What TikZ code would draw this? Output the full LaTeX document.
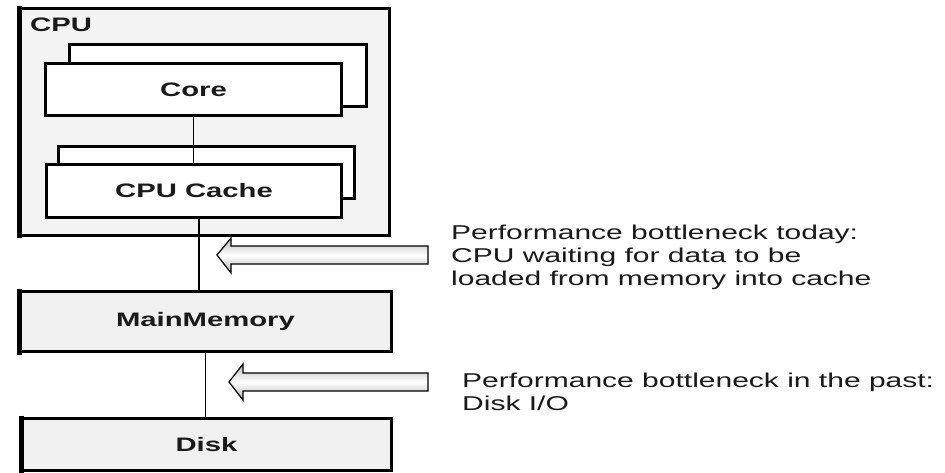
\documentclass[tikz,border=0pt]{standalone}
\usepackage{fontspec}
\setmainfont{Liberation Sans}
\newfontfamily\widefont[FakeStretch=1.5]{Liberation Sans}
\usetikzlibrary{calc}
\definecolor{boxgray}{HTML}{F0F0F0}
\definecolor{cpugray}{HTML}{F3F3F3}
\definecolor{inkgray}{HTML}{1A1A1A}
\begin{document}
\begin{tikzpicture}[x=1pt,y=-1pt,
  box/.style={draw=black, rectangle, inner sep=0pt, line width=3pt, text=inkgray,
    font=\widefont\bfseries\fontsize{19.5}{22}\selectfont},
  backbox/.style={draw=black, rectangle, fill=white, line width=3pt},
  conn/.style={draw=black, line width=1.3pt},
  note/.style={inner sep=0pt, align=left, anchor=north west, text=inkgray,
    font=\widefont\fontsize{20}{23}\selectfont},
  bigarrow/.style={draw=black, line width=1.2pt, line join=miter,
    top color=gray!55, bottom color=gray!60, middle color=white}]
\useasboundingbox (0,0) rectangle (945,473);
\fill[white] (0,0) rectangle (945,473);

% CPU outer box
\node[box, fill=cpugray, line width=2.5pt, minimum width=370pt, minimum height=227pt] (cpu) at (204.5,122) {};
\draw[line width=5pt] ([xshift=1pt,yshift=1.2pt]cpu.north west) -- ([xshift=1pt,yshift=-1.2pt]cpu.south west);
\node[anchor=base west, inner sep=0pt, text=inkgray, font=\widefont\bfseries\fontsize{19.5}{22}\selectfont] (cpulabel) at (30,32) {CPU};

% Core
\node[backbox, minimum width=297pt, minimum height=62pt] (coreback) at (218,75.5) {};
\node[box, fill=white, line width=3.5pt, minimum width=296pt, minimum height=52pt] (core) at (193.5,89.5) {Core};

% CPU Cache
\node[backbox, minimum width=296pt, minimum height=52pt] (cacheback) at (206.5,172.5) {};
\draw[conn] (core.south) -- (core.south |- 0,163) coordinate (cachetop);
\node[box, fill=white, line width=3.5pt, minimum width=295pt, minimum height=53pt] (cache) at (194,191) {CPU Cache};

% Main memory and disk
\node[box, fill=boxgray, minimum width=372pt, minimum height=60pt] (mem) at (205.5,321.5) {MainMemory};
\draw[line width=5pt] ([xshift=1pt,yshift=1.5pt]mem.north west) -- ([xshift=1pt,yshift=-1.5pt]mem.south west);
\node[box, fill=boxgray, minimum width=370pt, minimum height=52pt] (disk) at (206.5,444.5) {Disk};
\draw[line width=5pt] ([xshift=1pt,yshift=1.5pt]disk.north west) -- ([xshift=1pt,yshift=-1.5pt]disk.south west);

% connectors
\draw[conn] ([xshift=5pt]cache.south) -- ([xshift=5pt]cache.south |- mem.north);
\draw[conn] (mem.south) -- (mem.south |- disk.north);

% arrows
\path[bigarrow] (217,255) -- (231,238) -- (231,246) -- (428,246) -- (428,264) -- (231,264) -- (231,273) -- cycle;
\path[bigarrow] (229,382) -- (243,364) -- (243,373) -- (428,373) -- (428,391) -- (243,391) -- (243,400) -- cycle;

% notes
\node[note] (today) at (451,225) {Performance bottleneck today:\\CPU waiting for data to be\\loaded from memory into cache};
\node[note] (past) at (462,373) {Performance bottleneck in the past:\\Disk I/O};
\end{tikzpicture}
\end{document}
